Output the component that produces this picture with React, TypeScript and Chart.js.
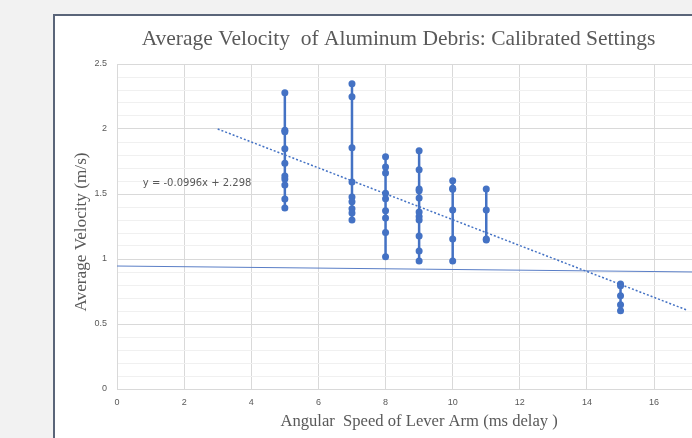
import React, { useEffect, useRef } from "react";
import { Chart, registerables } from "chart.js";

Chart.register(...registerables);

// ---- data ----
const groupX = [5, 7, 8, 9, 10, 11, 15];
const v5 = [2.279, 1.99, 1.979, 1.848, 1.736, 1.638, 1.615, 1.569, 1.462, 1.392];
const v7 = [2.349, 2.249, 1.856, 1.592, 1.477, 1.441, 1.387, 1.354, 1.3];
const v8 = [1.787, 1.708, 1.662, 1.505, 1.464, 1.372, 1.315, 1.203, 1.018];
const v9 = [1.833, 1.687, 1.538, 1.525, 1.469, 1.362, 1.326, 1.3, 1.177, 1.062, 0.985];
const v10 = [1.602, 1.544, 1.536, 1.377, 1.154, 0.985];
const v11 = [1.538, 1.377, 1.154, 1.146];
const v15 = [0.808, 0.795, 0.718, 0.649, 0.602];
const groupValues = [v5, v7, v8, v9, v10, v11, v15];

// dotted linear trendline endpoints
const trendX = [3, 17];
const trendY = [2.0, 0.605];
// thin solid line
const flatX = [0, 18.4];
const flatY = [0.946, 0.897];

const equationText = "y = -0.0996x + 2.298";
const equationPos = { x: 0.77, y: 1.585 };

const yTickLabels = ["0", "0.5", "1", "1.5", "2", "2.5"];
const xTickLabels = ["0", "2", "4", "6", "8", "10", "12", "14", "16", "18"];
const xMax = 18.38; // the chart continues past the right edge of the picture
const xAxisEnd = 18; // axis of the original chart runs 0..18

const titleText = "Average Velocity  of Aluminum Debris: Calibrated Settings";
const xTitle = "Angular  Speed of Lever Arm (ms delay )";
const yTitle = "Average Velocity (m/s)";

const BLUE = "#4472C4";

export default function App() {
  const ref = useRef<HTMLCanvasElement | null>(null);

  useEffect(() => {
    if (!ref.current) return;
    const datasets: any[] = groupX.map((gx, i) => ({
      label: "x" + gx,
      data: groupValues[i].map((v) => ({ x: gx, y: v })),
      showLine: true,
      borderColor: BLUE,
      backgroundColor: BLUE,
      borderWidth: 2.5,
      pointRadius: 3.5,
      pointBorderWidth: 0,
    }));
    datasets.push({
      label: "trend",
      data: trendX.map((x, i) => ({ x, y: trendY[i] })),
      showLine: true,
      borderColor: BLUE,
      borderWidth: 1.5,
      borderDash: [2, 2],
      pointRadius: 0,
    });
    datasets.push({
      label: "flat",
      data: flatX.map((x, i) => ({ x, y: flatY[i] })),
      showLine: true,
      borderColor: "#5a7ec6",
      borderWidth: 1,
      pointRadius: 0,
    });

    const textPlugin = {
      id: "texts",
      afterDatasetsDraw(chart: any) {
        const { ctx, scales } = chart;
        const px = scales.x.getPixelForValue(equationPos.x);
        const py = scales.y.getPixelForValue(equationPos.y);
        ctx.save();
        ctx.font = '10px "DejaVu Sans"';
        ctx.fillStyle = "#595959";
        ctx.textAlign = "left";
        ctx.textBaseline = "middle";
        ctx.fillText(equationText, px, py);
        ctx.restore();
      },
      afterDraw(chart: any) {
        const { ctx, chartArea, scales, height } = chart;
        ctx.save();
        ctx.fillStyle = "#595959";
        ctx.textAlign = "center";
        ctx.textBaseline = "middle";
        // x axis title, centred under the 0..18 axis
        ctx.font = '16.6px "Liberation Serif"';
        const cx = (scales.x.getPixelForValue(0) + scales.x.getPixelForValue(xAxisEnd)) / 2;
        ctx.fillText(xTitle, cx, height - 24.5);
        // y axis title
        ctx.font = '17.2px "Liberation Serif"';
        ctx.translate(26.5, (chartArea.top + chartArea.bottom) / 2 + 5.5);
        ctx.rotate(-Math.PI / 2);
        ctx.fillText(yTitle, 0, 0);
        ctx.restore();
      },
    };

    const chart = new Chart(ref.current, {
      type: "scatter",
      data: { datasets },
      options: {
        animation: false,
        responsive: false,
        layout: { padding: { left: 0, right: 0, top: 0, bottom: 0 } },
        plugins: {
          legend: { display: false },
          tooltip: { enabled: false },
          title: {
            display: true,
            text: titleText,
            color: "#595959",
            font: { family: '"Liberation Serif"', size: 21.5, weight: "normal" },
            padding: { top: 10, bottom: 12.2 },
          },
        },
        scales: {
          x: {
            type: "linear",
            min: 0,
            max: xMax,
            afterFit: (s: any) => {
              s.height = 57;
            },
            ticks: {
              stepSize: 2,
              color: "#595959",
              font: { family: '"Liberation Sans"', size: 9 },
              padding: 8,
              maxRotation: 0,
              callback: (v: any) => {
                const n = Number(v);
                if (Math.abs(n / 2 - Math.round(n / 2)) > 1e-6) return "";
                return xTickLabels[Math.round(n / 2)] ?? "";
              },
            },
            grid: { color: "#d9d9d9", drawTicks: false, lineWidth: 1 },
            border: { display: true, color: "#d9d9d9" },
            title: { display: false, text: xTitle },
          },
          y: {
            type: "linear",
            min: 0,
            max: 2.5,
            afterFit: (s: any) => {
              s.width = 62;
            },
            ticks: {
              stepSize: 0.1,
              autoSkip: false,
              color: "#595959",
              font: { family: '"Liberation Sans"', size: 9 },
              padding: 10,
              callback: (v: any) => {
                const t = Math.round(Number(v) * 10);
                if (t % 5 !== 0) return "";
                return yTickLabels[t / 5] ?? "";
              },
            },
            grid: {
              drawTicks: false,
              lineWidth: 1,
              color: (c: any) => {
                const t = Math.round((c.tick?.value ?? 0) * 10);
                return t % 5 === 0 ? "#d9d9d9" : "#f0f0f0";
              },
            },
            border: { display: true, color: "#d9d9d9" },
            title: { display: false, text: yTitle },
          },
        },
      },
      plugins: [textPlugin],
    });
    return () => chart.destroy();
  }, []);

  return (
    <div
      style={{
        position: "fixed",
        left: 0,
        top: 0,
        width: 692,
        height: 438,
        overflow: "hidden",
        background: "#f2f2f2",
      }}
    >
      <div
        style={{
          position: "absolute",
          left: 53,
          top: 14,
          width: 691,
          height: 450,
          border: "2px solid #5a6579",
          background: "#ffffff",
        }}
      >
        <canvas
          ref={ref}
          width={687}
          height={430}
          style={{ display: "block", width: 687, height: 430 }}
        />
      </div>
    </div>
  );
}
